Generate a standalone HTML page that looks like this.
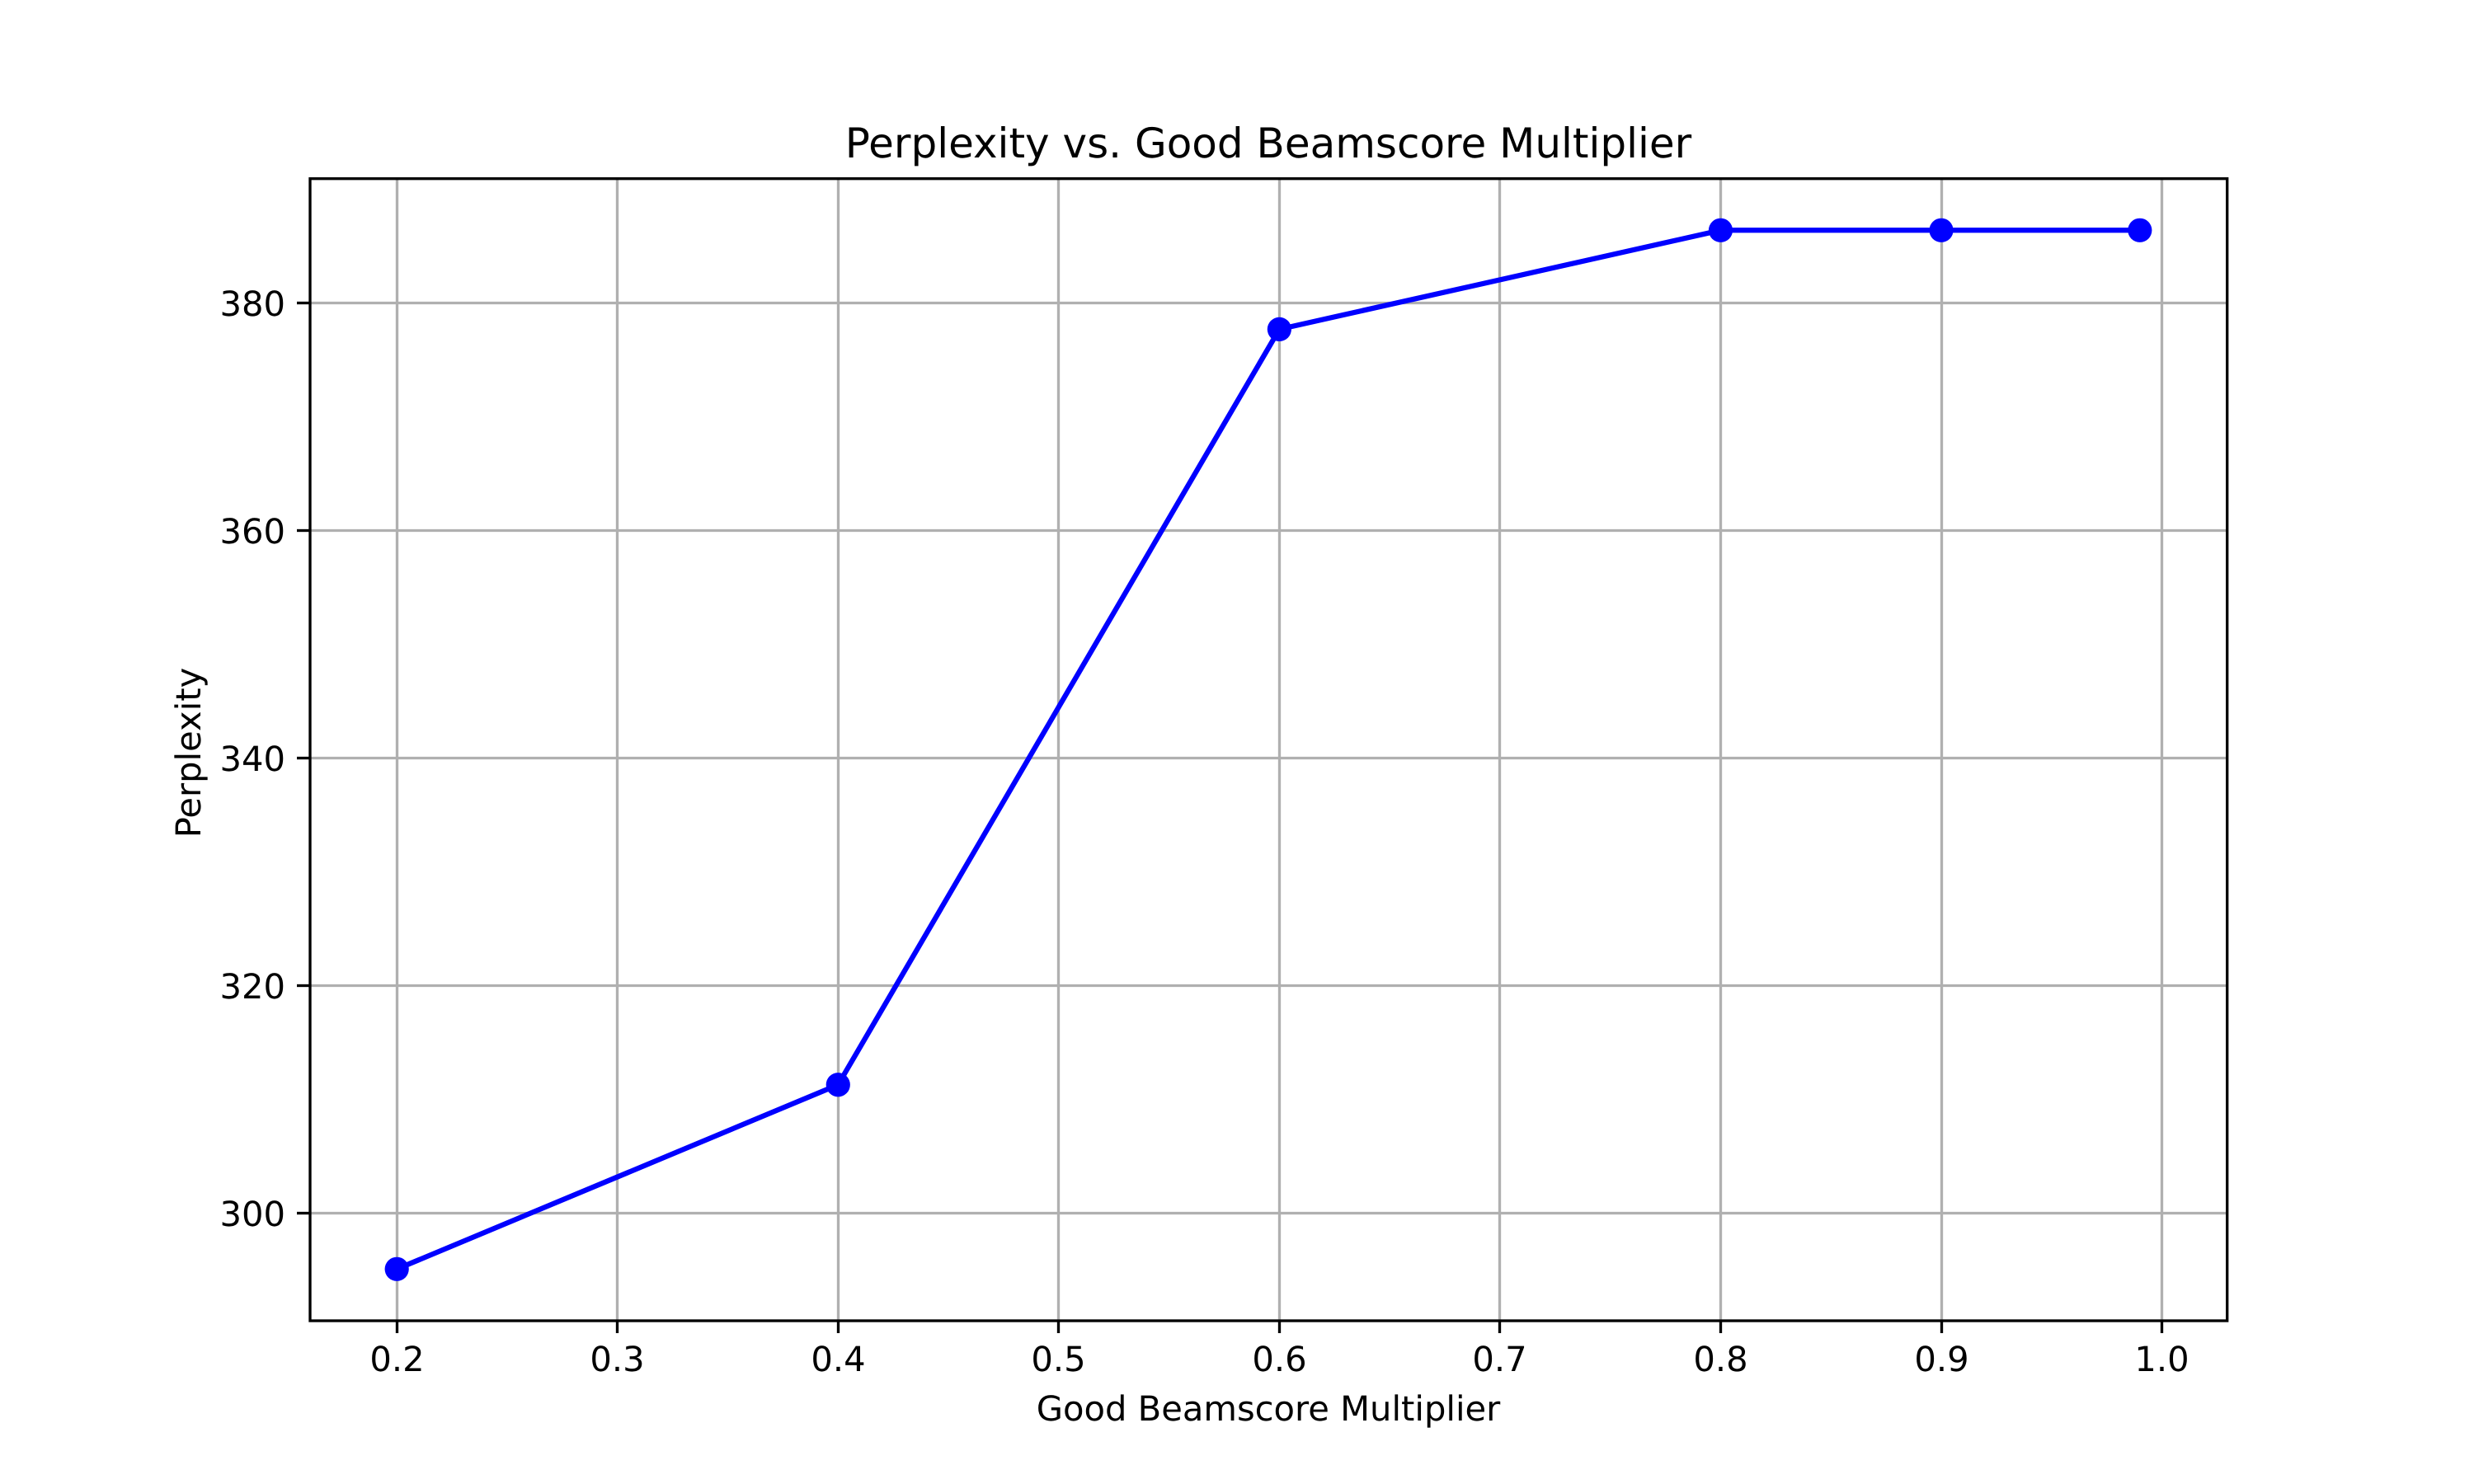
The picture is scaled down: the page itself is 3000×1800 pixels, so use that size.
<!DOCTYPE html>
<html lang="en">
<head>
<meta charset="utf-8">
<title>Perplexity vs. Good Beamscore Multiplier</title>
<style>
html,body{margin:0;padding:0;background:#fff;width:3000px;height:1800px;overflow:hidden}
svg{display:block}
text{font-family:"DejaVu Sans",sans-serif;fill:#000;text-rendering:geometricPrecision}
</style>
</head>
<body>
<svg id="chart" xmlns="http://www.w3.org/2000/svg" width="3000" height="1800" viewBox="0 0 3000 1800">
  <rect x="0" y="0" width="3000" height="1800" fill="#fff"/>
  <g id="grid"></g>
  <g id="series"></g>
  <rect x="376" y="216.7" width="2324.7" height="1385.3" fill="none" stroke="#000" stroke-width="3.33"/>
  <g id="ticks"></g>
  <text x="1538" y="191" font-size="50" text-anchor="middle">Perplexity vs. Good Beamscore Multiplier</text>
  <text x="1538" y="1723" font-size="41.67" text-anchor="middle">Good Beamscore Multiplier</text>
  <text transform="translate(243 913) rotate(-90)" font-size="41.67" text-anchor="middle">Perplexity</text>
</svg>
<script>
const multipliers = [0.2, 0.4, 0.6, 0.8, 0.9, 0.99];
const perplexity = [295.1, 311.3, 377.7, 386.4, 386.4, 386.4];
const xTicks = [0.2, 0.3, 0.4, 0.5, 0.6, 0.7, 0.8, 0.9, 1.0];
const yTicks = [300, 320, 340, 360, 380];

const NS = 'http://www.w3.org/2000/svg';
const plot = { left: 375.5, right: 2700.5, top: 216.3, bottom: 1602.3 };

function bounds(values) {
  const lo = Math.min(...values);
  const hi = Math.max(...values);
  const pad = (hi - lo) * 0.05;
  return [lo - pad, hi + pad];
}
const xDomain = bounds(multipliers);
const yDomain = bounds(perplexity);

function xScale(v) {
  return plot.left + (v - xDomain[0]) / (xDomain[1] - xDomain[0]) * (plot.right - plot.left);
}
function yScale(v) {
  return plot.bottom - (v - yDomain[0]) / (yDomain[1] - yDomain[0]) * (plot.bottom - plot.top);
}
function snap(p) {
  return Math.floor(p) + 0.5;
}
function make(tag, attrs, parent) {
  const el = document.createElementNS(NS, tag);
  for (const k in attrs) el.setAttribute(k, attrs[k]);
  parent.appendChild(el);
  return el;
}

const gridG = document.getElementById('grid');
const ticksG = document.getElementById('ticks');
const seriesG = document.getElementById('series');

xTicks.forEach(function (t) {
  const px = snap(xScale(t));
  const grid = make('line', { x1: px, x2: px, y1: 216, y2: 1602, stroke: '#b0b0b0', 'stroke-width': 3.33 }, gridG);
  
  
  const tick = make('line', { x1: px, x2: px, y1: 1602, y2: 1617, stroke: '#000', 'stroke-width': 3.33 }, ticksG);
  
  
  const label = make('text', { x: px, y: 1663, 'font-size': 41.67, 'text-anchor': 'middle' }, ticksG);
  
  
  label.textContent = t.toFixed(1);
});

yTicks.forEach(function (t) {
  const py = snap(yScale(t));
  const grid = make('line', { x1: 375, x2: 2700, y1: py, y2: py, stroke: '#b0b0b0', 'stroke-width': 3.33 }, gridG);
  
  
  const tick = make('line', { x1: 360, x2: 375, y1: py, y2: py, stroke: '#000', 'stroke-width': 3.33 }, ticksG);
  
  
  const label = make('text', { x: 346, y: py + 15.5, 'font-size': 41.67, 'text-anchor': 'end' }, ticksG);
  
  
  label.textContent = String(t);
});

const points = multipliers.map(function (m, i) {
  return xScale(m) + ',' + yScale(perplexity[i]);
}).join(' ');
const line = make('polyline', { points: points, fill: 'none', stroke: '#0000ff', 'stroke-width': 6.25, 'stroke-linejoin': 'round', 'stroke-linecap': 'square' }, seriesG);



multipliers.forEach(function (m, i) {
  const dot = make('circle', { cx: xScale(m), cy: yScale(perplexity[i]), r: 14.6, fill: '#0000ff' }, seriesG);
  
  
});
</script>
</body>
</html>
